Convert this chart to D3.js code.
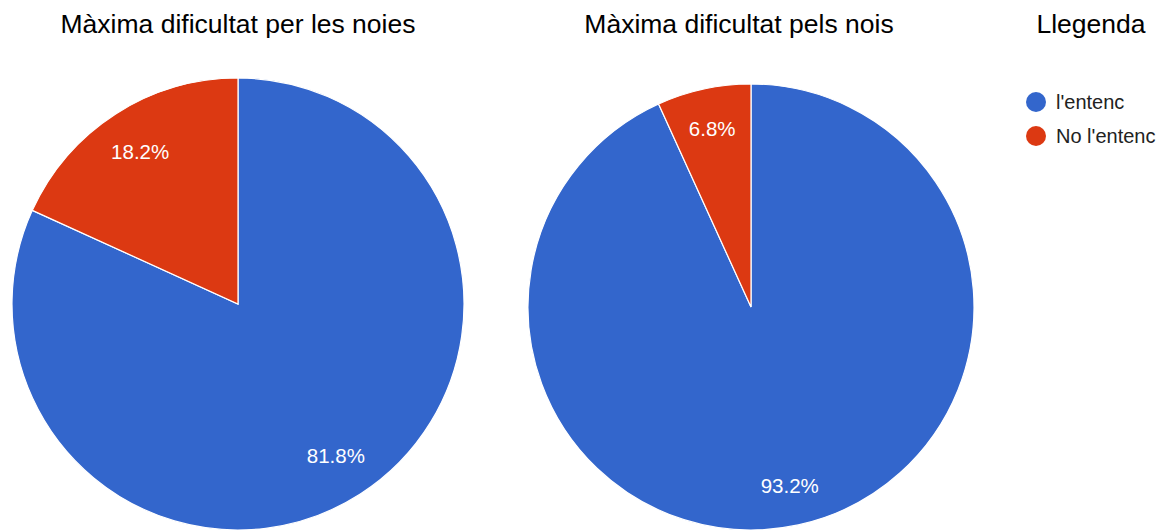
<!DOCTYPE html>
<html><head><meta charset="utf-8">
<script src="https://cdn.jsdelivr.net/npm/d3@7"></script>
<style>body{margin:0;background:#fff}svg{display:block}</style>
</head><body>
<svg id="c" width="1164" height="532"></svg>
<script>
const categories = ["l'entenc", "No l'entenc"];
const titles = ["Màxima dificultat per les noies", "Màxima dificultat pels nois"];
const noies = [81.8, 18.2];
const nois = [93.2, 6.8];
const legendTitle = "Llegenda";
const colors = ["#3366cc", "#dc3912"];

const svg = d3.select("#c");
const font = "Liberation Sans, Arial, sans-serif";
const pies = [
  {vals: noies, cx: 238, cy: 304, r: 226, lr: 0.8, tx: 238, title: titles[0]},
  {vals: nois, cx: 751, cy: 307, r: 223, lr: 0.82, tx: 739, title: titles[1]}
];
const pie = d3.pie().sort(null).value(d => d);
const color = d3.scaleOrdinal().domain(categories).range(colors);

pies.forEach(p => {
  svg.append("text").attr("x", p.tx).attr("y", 33).attr("text-anchor", "middle")
    .attr("font-family", font).attr("font-size", 26.5).attr("fill", "#000").text(p.title);
  const g = svg.append("g").attr("transform", `translate(${p.cx},${p.cy})`);
  const arc = d3.arc().innerRadius(0).outerRadius(p.r);
  const lab = d3.arc().innerRadius(p.r * p.lr).outerRadius(p.r * p.lr);
  const arcs = pie(p.vals);
  g.selectAll("path").data(arcs).join("path")
    .attr("d", arc).attr("fill", (d, i) => color(categories[i]))
    .attr("stroke", "#fff").attr("stroke-width", 1.2);
  g.selectAll("text").data(arcs).join("text")
    .attr("transform", d => `translate(${lab.centroid(d)})`)
    .attr("text-anchor", "middle").attr("dy", "0.36em")
    .attr("font-family", font).attr("font-size", 20.5).attr("fill", "#fff")
    .text(d => d.data.toFixed(1) + "%");
});

svg.append("text").attr("x", 1091).attr("y", 33).attr("text-anchor", "middle")
  .attr("font-family", font).attr("font-size", 26.5).attr("fill", "#000").text(legendTitle);
const lg = svg.append("g");
categories.forEach((c, i) => {
  const y = 102 + i * 34;
  lg.append("circle").attr("cx", 1036).attr("cy", y).attr("r", 10).attr("fill", color(c));
  lg.append("text").attr("x", 1056).attr("y", y).attr("dy", "0.36em")
    .attr("font-family", font).attr("font-size", 20).attr("fill", "#222").text(c);
});
</script>
</body></html>
